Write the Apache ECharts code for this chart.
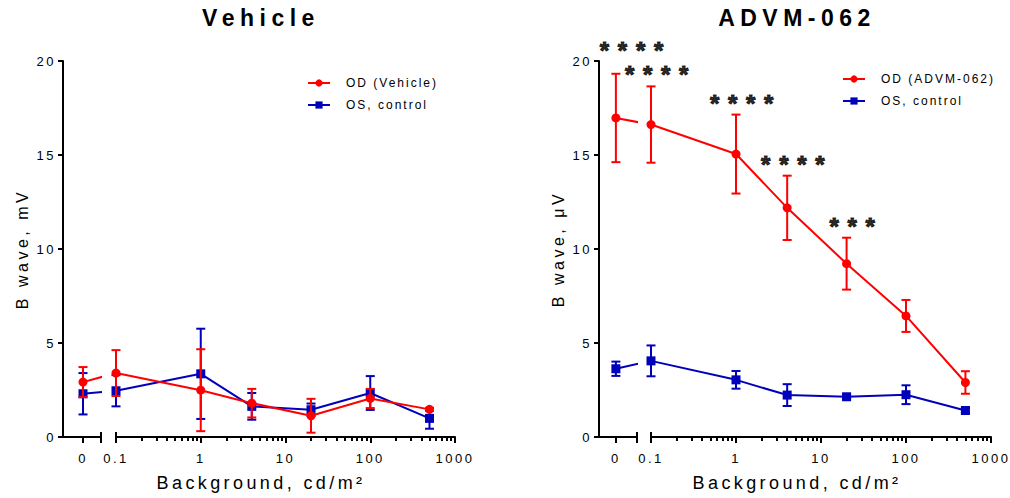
<!DOCTYPE html>
<html>
<head>
<meta charset="utf-8">
<script src="https://cdn.jsdelivr.net/npm/echarts@6/dist/echarts.min.js"></script>
<style>
html, body { margin: 0; padding: 0; background: #fff; }
#c { width: 1010px; height: 498px; }
#c text[style*="23px"] { letter-spacing: 5.5px; }
#c text[style*="24px"] { letter-spacing: 8.7px; }
#c text[style*="18px"] { letter-spacing: 3.4px; }
#c text[style*="16px"] { letter-spacing: 3.5px; }
#c text[style*="13px"] { letter-spacing: 2.5px; }
#c text[style*="12px"] { letter-spacing: 2px; }
</style>
</head>
<body>
<div id="c"></div>
<script>
// ---------------- data ----------------
const levels = [0, 0.1, 1, 4, 20, 100, 500];
const logTicks = [0.1, 1, 10, 100, 1000];
const zeroTick = [0];
const yMin = 0, yMax = 20, yStep = 5;

const vehOD    = [2.92, 3.40, 2.49, 1.80, 1.13, 2.05, 1.47];
const vehODErr = [0.80, 1.22, 2.18, 0.76, 0.90, 0.51, 0.08];
const vehOS    = [2.30, 2.46, 3.36, 1.63, 1.45, 2.34, 0.99];
const vehOSErr = [1.10, 0.83, 2.40, 0.71, 0.33, 0.90, 0.55];

const advOD    = [16.97, 16.62, 15.05, 12.19, 9.22, 6.44, 2.90];
const advODErr = [2.35, 2.03, 2.10, 1.71, 1.38, 0.85, 0.60];
const advOS    = [3.63, 4.05, 3.04, 2.23, 2.14, 2.25, 1.41];
const advOSErr = [0.38, 0.82, 0.47, 0.58, 0.10, 0.50, 0.15];
const advStars = ['****', '****', '****', '****', '***', '', ''];

const titles = ['Vehicle', 'ADVM-062'];
const yNames = ['B wave, mV', 'B wave, μV'];
const xName = 'Background, cd/m²';
const odNames = ['OD (Vehicle)', 'OD (ADVM-062)'];
const osName = 'OS, control';

// ---------------- style / layout ----------------
const RED = '#ff0000', BLUE = '#0000bb', INK = '#000000';
const FONT = "'Liberation Sans', Arial, sans-serif";
const TOP = 61, HEIGHT = 376;
const layout = [
  { zeroLeft: 63, zeroWidth: 38, zeroMin: -1, zeroMax: 0.9, logLeft: 116, logWidth: 339, center: 261, legendLeft: 307, legendTop: 76 },
  { zeroLeft: 599, zeroWidth: 38, zeroMin: -0.8, zeroMax: 1, logLeft: 651, logWidth: 340, center: 797, legendLeft: 842, legendTop: 72 }
];

const minorLog = [];
for (let d = -1; d < 3; d++) for (let m = 2; m <= 9; m++) minorLog.push(d + Math.log10(m));

function errorBar(params, api) {
  const x = api.value(0), m = api.value(1), e = api.value(2);
  const hi = api.coord([x, m + e]), lo = api.coord([x, m - e]);
  const hw = 4.5;
  const style = { stroke: api.visual('color'), lineWidth: 2 };
  return {
    type: 'group',
    children: [
      { type: 'line', shape: { x1: hi[0], y1: hi[1], x2: lo[0], y2: lo[1] }, style },
      { type: 'line', shape: { x1: hi[0] - hw, y1: hi[1], x2: hi[0] + hw, y2: hi[1] }, style },
      { type: 'line', shape: { x1: lo[0] - hw, y1: lo[1], x2: lo[0] + hw, y2: lo[1] }, style }
    ]
  };
}

const panels = [
  { od: vehOD, odErr: vehODErr, os: vehOS, osErr: vehOSErr, stars: null },
  { od: advOD, odErr: advODErr, os: advOS, osErr: advOSErr, stars: advStars }
];

const grid = [], xAxis = [], yAxis = [], series = [], legend = [], title = [];
const axisIdx = [];
const axisLineStyle = { color: INK, width: 2 };
const tickLabel = { fontSize: 13, color: INK, fontFamily: FONT };
const plain = v => String(v);

panels.forEach((p, i) => {
  const L = layout[i];
  const gZero = grid.length;
  grid.push({ left: L.zeroLeft, top: TOP, width: L.zeroWidth, height: HEIGHT, containLabel: false, outerBoundsMode: 'none' });
  const gLog = grid.length;
  grid.push({ left: L.logLeft, top: TOP, width: L.logWidth, height: HEIGHT, containLabel: false, outerBoundsMode: 'none' });

  const xZero = xAxis.length;
  xAxis.push({
    type: 'value', gridIndex: gZero, min: L.zeroMin, max: L.zeroMax, position: 'bottom',
    axisLine: { show: true, onZero: false, lineStyle: axisLineStyle },
    axisTick: { show: true, customValues: zeroTick, length: 6, lineStyle: { color: INK, width: 2 } },
    axisLabel: Object.assign({ customValues: zeroTick, margin: 15, formatter: plain }, tickLabel),
    splitLine: { show: false }
  });
  const xLog = xAxis.length;
  xAxis.push({
    type: 'log', logBase: 10, gridIndex: gLog, position: 'bottom',
    min: logTicks[0], max: logTicks[logTicks.length - 1],
    axisLine: { show: true, onZero: false, lineStyle: axisLineStyle },
    axisTick: { show: true, length: 6, lineStyle: { color: INK, width: 2 } },
    axisLabel: Object.assign({ margin: 15, formatter: plain }, tickLabel),
    splitLine: { show: false },
    minorTick: { show: false }
  });
  xAxis.push({
    type: 'value', gridIndex: gLog, position: 'bottom',
    min: Math.log10(logTicks[0]), max: Math.log10(logTicks[logTicks.length - 1]),
    axisLine: { show: false, onZero: false },
    axisTick: { show: true, customValues: minorLog, length: 4, lineStyle: { color: INK, width: 2 } },
    axisLabel: { show: false },
    splitLine: { show: false }
  });

  const yZero = yAxis.length;
  yAxis.push({
    type: 'value', gridIndex: gZero, min: yMin, max: yMax, interval: yStep, position: 'left',
    name: yNames[i], nameLocation: 'middle', nameGap: 33,
    nameTextStyle: { fontSize: 16, color: INK, fontFamily: FONT },
    axisLine: { show: true, onZero: false, lineStyle: axisLineStyle },
    axisTick: { show: true, length: 5, lineStyle: { color: INK, width: 2 } },
    axisLabel: Object.assign({ margin: 7 }, tickLabel),
    splitLine: { show: false }
  });
  const yLog = yAxis.length;
  yAxis.push({ type: 'value', gridIndex: gLog, min: yMin, max: yMax, interval: yStep, show: false, splitLine: { show: false } });

  axisIdx.push({ xZero, xLog, yZero, yLog });

  const x01InZero = L.zeroMin + (L.logLeft - L.zeroLeft) / L.zeroWidth * (L.zeroMax - L.zeroMin);

  function addGroup(name, color, symbol, means, errs, zBase) {
    series.push({
      type: 'custom', xAxisIndex: xZero, yAxisIndex: yZero, renderItem: errorBar,
      itemStyle: { color }, encode: { x: 0, y: 1 }, silent: true, z: zBase,
      data: [[levels[0], means[0], errs[0]]]
    });
    series.push({
      type: 'custom', xAxisIndex: xLog, yAxisIndex: yLog, renderItem: errorBar,
      itemStyle: { color }, encode: { x: 0, y: 1 }, silent: true, z: zBase,
      data: levels.slice(1).map((x, k) => [x, means[k + 1], errs[k + 1]])
    });
    const common = {
      type: 'line', name, symbol, symbolSize: 9, clip: true, silent: true, z: zBase + 1,
      itemStyle: { color }, lineStyle: { color, width: 2 }, animation: false
    };
    series.push(Object.assign({}, common, {
      xAxisIndex: xZero, yAxisIndex: yZero,
      data: [[levels[0], means[0]], { value: [x01InZero, means[1]], symbol: 'none' }]
    }));
    series.push(Object.assign({}, common, {
      xAxisIndex: xLog, yAxisIndex: yLog,
      data: levels.slice(1).map((x, k) => [x, means[k + 1]])
    }));
  }
  addGroup(osName, BLUE, 'rect', p.os, p.osErr, 2);
  addGroup(odNames[i], RED, 'circle', p.od, p.odErr, 4);

  if (p.stars) {
    const zeroStars = [], logStars = [];
    p.stars.forEach((s, k) => {
      if (!s) return;
      const item = { value: [levels[k], p.od[k] + p.odErr[k]], label: { formatter: s } };
      (k === 0 ? zeroStars : logStars).push(item);
    });
    const starLabel = {
      show: true, position: 'top', distance: 3, lineHeight: 16,
      fontSize: 24, fontWeight: 'bold', color: INK, fontFamily: FONT,
      textBorderColor: INK, textBorderWidth: 1.1
    };
    series.push({
      type: 'scatter', xAxisIndex: xZero, yAxisIndex: yZero, data: zeroStars, symbolSize: 1, clip: false,
      itemStyle: { color: 'transparent' }, silent: true, z: 8,
      label: Object.assign({ offset: [20, -12] }, starLabel)
    });
    series.push({
      type: 'scatter', xAxisIndex: xLog, yAxisIndex: yLog, data: logStars, symbolSize: 1, clip: false,
      itemStyle: { color: 'transparent' }, silent: true, z: 8,
      label: Object.assign({ offset: [10, 0] }, starLabel)
    });
  }

  legend.push({
    orient: 'vertical', left: L.legendLeft, top: L.legendTop, padding: 0,
    data: [odNames[i], osName], itemWidth: 22, itemHeight: 9, itemGap: 8, selectedMode: false,
    textStyle: { fontSize: 12, color: INK, fontFamily: FONT, lineHeight: 14, padding: [0, 0, 0, 11] }
  });

  title.push({
    text: titles[i], left: L.center, top: 6, textAlign: 'center', padding: 0,
    textStyle: { fontSize: 23, fontWeight: 'bold', color: INK, fontFamily: FONT }
  });
  title.push({
    text: xName, left: L.center, top: 474, textAlign: 'center', padding: 0,
    textStyle: { fontSize: 18, fontWeight: 'normal', color: INK, fontFamily: FONT }
  });
});

const chart = echarts.init(document.getElementById('c'), null, { renderer: 'svg', width: 1010, height: 498 });
chart.setOption({
  animation: false,
  backgroundColor: '#ffffff',
  textStyle: { fontFamily: FONT },
  title, legend, grid, xAxis, yAxis, series
});

// axis-break marks, positioned through the axes' own scales
const marks = [];
layout.forEach((L, i) => {
  const a = axisIdx[i];
  const y0 = chart.convertToPixel({ yAxisIndex: a.yZero }, yMin);
  const xa = chart.convertToPixel({ xAxisIndex: a.xZero }, L.zeroMax);
  const xb = chart.convertToPixel({ xAxisIndex: a.xLog }, logTicks[0]);
  [xa, xb].forEach(x => marks.push({
    type: 'line', shape: { x1: x, y1: y0 - 5, x2: x, y2: y0 + 6 },
    style: { stroke: INK, lineWidth: 2 }, z: 10, silent: true
  }));
});
chart.setOption({ graphic: marks });
</script>
</body>
</html>
